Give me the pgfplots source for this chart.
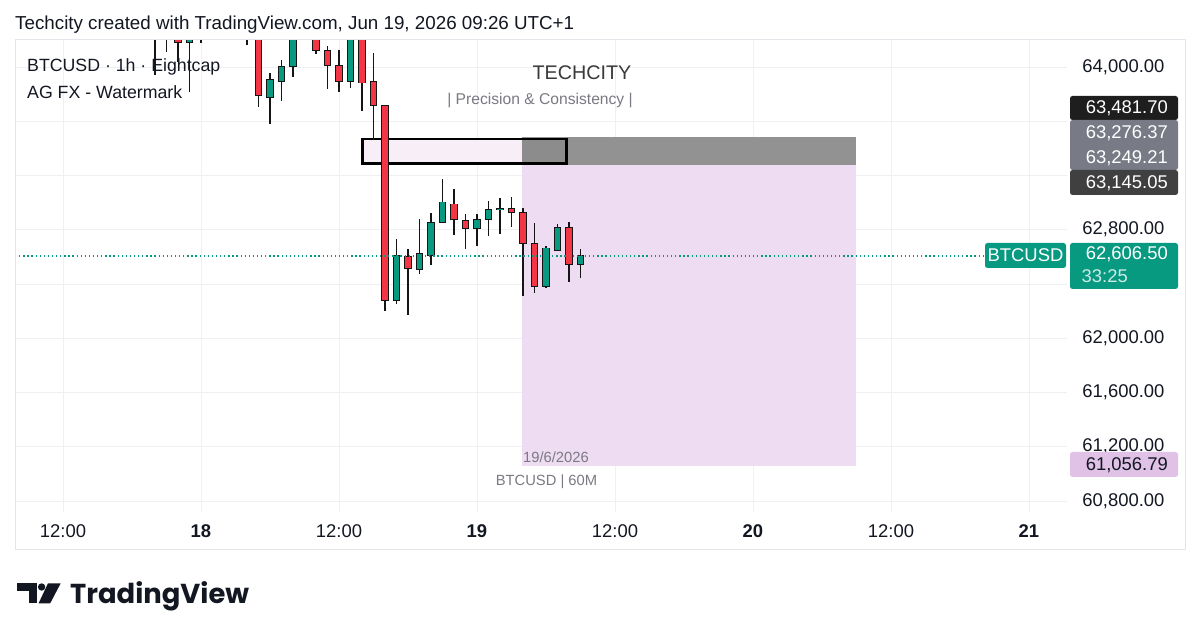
\documentclass[border=0pt]{standalone}
\usepackage{pgfplots}
\pgfplotsset{compat=1.18}
\usepackage{pgfplotstable}
\usepackage{fontspec}
\setmainfont{Liberation Sans}
\newfontfamily\logofont{Poppins}

\definecolor{upc}{HTML}{089981}
\definecolor{dnc}{HTML}{F23645}
\definecolor{wickc}{HTML}{151515}
\definecolor{gridc}{HTML}{EFF0F3}
\definecolor{framec}{HTML}{E3E5EA}
\definecolor{txt}{HTML}{131722}
\definecolor{pinkz}{HTML}{EEDDF2}
\definecolor{grayz}{HTML}{929292}
\definecolor{rectfill}{HTML}{F7EEF8}
\definecolor{lblblack}{HTML}{1E1E1E}
\definecolor{lblgray}{HTML}{787B86}
\definecolor{lbldark}{HTML}{404040}
\definecolor{lblpink}{HTML}{E0C2E7}
\definecolor{wmtxt}{HTML}{3A3A3A}
\definecolor{subtxt}{HTML}{7A7A84}

% hour 0 = 18 Jun 00:00 ; columns: x open high low close
\pgfplotstableread{
x o h l c
-4 64400 64500 63941 64300
-2 64300 64400 64039 64184
0 64300 64350 64177 64250
2 64500 64600 64300 64400
4 64300 64400 64162 64250
5 64300 64400 63703 63794
10 64350 64400 64100 64125
11 64120 64155 63836 64015
12 64010 64125 63813 63899
14 64250 64300 63678 63887
15 63887 64101 63462 63718
16 63712 63715 62201 62282
18 62601 62658 62171 62516
22 62988 63103 62766 62881
23 62865 62914 62658 62811
27 62951 63044 62820 62929
28 62926 62963 62311 62700
29 62695 62848 62336 62385
32 62811 62855 62417 62547
}\redt

\pgfplotstableread{
x o h l c
-3 64250 64450 64113 64350
-1 64184 64400 63818 64300
1 64300 64550 64250 64450
3 64350 64500 64250 64450
6 63781 63954 63578 63904
7 63899 64052 63752 64002
8 64010 64300 63928 64250
9 64250 64450 64210 64350
13 63899 64300 63847 64250
17 62282 62734 62253 62606
19 62508 62877 62474 62621
20 62614 62921 62540 62848
21 62859 63176 62855 63002
24 62815 62914 62680 62872
25 62877 63012 62756 62946
26 62951 63036 62769 62953
30 62385 62682 62368 62663
31 62651 62840 62646 62811
33 62545 62656 62442 62606.5
}\greent

\newcommand{\fs}[1]{\fontsize{#1}{#1}\selectfont}

\begin{document}
\begin{tikzpicture}[x=1bp,y=1bp]
\fill[white] (0,0) rectangle (1200,638);

\begin{axis}[
  at={(15bp,126bp)}, anchor=south west,
  scale only axis, width=1052bp, height=472bp,
  xmin=-16.17, xmax=75.3, ymin=60718.9, ymax=64199.1,
  axis line style={draw=none},
  major tick length=0pt, tick style={draw=none},
  grid=major, grid style={draw=gridc, line width=0.9bp},
  scaled y ticks=false, scaled x ticks=false,
  xtick={-12,0,12,24,36,48,60,72},
  xticklabels={12:00,\textbf{18},12:00,\textbf{19},12:00,\textbf{20},12:00,\textbf{21}},
  xticklabel style={anchor=center, yshift=-19bp, font=\fs{18.5}, text=txt},
  ytick={60800,61200,61600,62000,62400,62800,63200,63600,64000},
  yticklabels={{60,800.00},{61,200.00},{61,600.00},{62,000.00},{},{62,800.00},{},{},{64,000.00}},
  yticklabel pos=right,
  yticklabel style={anchor=east, xshift=101bp, font=\fs{18.5}, text=txt},
  clip mode=individual,
]
% position tool zones
\addplot[forget plot, fill=pinkz, draw=none] coordinates {(27.91,63276.37) (56.96,63276.37) (56.96,61056.79) (27.91,61056.79)} -- cycle;
\addplot[forget plot, fill=grayz, draw=none] coordinates {(27.91,63481.70) (56.96,63481.70) (56.96,63276.37) (27.91,63276.37)} -- cycle;
% outlined rectangle
\addplot[forget plot, fill=rectfill, draw=none] coordinates {(14.03,63470) (27.91,63470) (27.91,63290) (14.03,63290)} -- cycle;
\addplot[forget plot, fill=black, fill opacity=0.04, draw=none] coordinates {(27.91,63470) (31.8,63470) (31.8,63290) (27.91,63290)} -- cycle;
\addplot[forget plot, draw=black, line width=2.7bp] coordinates {(14.03,63470) (31.8,63470) (31.8,63290) (14.03,63290)} -- cycle;

% wicks
\addplot[forget plot, draw=none, mark=none,
  error bars/.cd, y dir=both, y explicit, error mark=none,
  error bar style={draw=wickc, line width=1.3bp, solid}]
  table[x=x, y expr={(\thisrow{h}+\thisrow{l})/2}, y error expr={(\thisrow{h}-\thisrow{l})/2}] {\redt};
\addplot[forget plot, draw=none, mark=none,
  error bars/.cd, y dir=both, y explicit, error mark=none,
  error bar style={draw=wickc, line width=1.3bp, solid}]
  table[x=x, y expr={(\thisrow{h}+\thisrow{l})/2}, y error expr={(\thisrow{h}-\thisrow{l})/2}] {\greent};
% body outlines
\addplot[forget plot, draw=none, mark=none,
  error bars/.cd, y dir=both, y explicit, error mark=none,
  error bar style={draw=wickc, line width=7.5bp, solid}]
  table[x=x, y expr={(\thisrow{o}+\thisrow{c})/2}, y error expr={abs(\thisrow{o}-\thisrow{c})/2+6.6}] {\redt};
\addplot[forget plot, draw=none, mark=none,
  error bars/.cd, y dir=both, y explicit, error mark=none,
  error bar style={draw=wickc, line width=7.5bp, solid}]
  table[x=x, y expr={(\thisrow{o}+\thisrow{c})/2}, y error expr={abs(\thisrow{o}-\thisrow{c})/2+6.6}] {\greent};
% body fills
\addplot[forget plot, draw=none, mark=none,
  error bars/.cd, y dir=both, y explicit, error mark=none,
  error bar style={draw=dnc, line width=5.6bp, solid}]
  table[x=x, y expr={(\thisrow{o}+\thisrow{c})/2}, y error expr={abs(\thisrow{o}-\thisrow{c})/2}] {\redt};
\addplot[forget plot, draw=none, mark=none,
  error bars/.cd, y dir=both, y explicit, error mark=none,
  error bar style={draw=upc, line width=5.6bp, solid}]
  table[x=x, y expr={(\thisrow{o}+\thisrow{c})/2}, y error expr={abs(\thisrow{o}-\thisrow{c})/2}] {\greent};
% last price line
\addplot[forget plot, draw=upc, line width=1.3bp, dash pattern=on 1.3bp off 2.8bp] coordinates {(-16.17,62606.5) (68.17,62606.5)};
\end{axis}

% frame
\draw[framec, line width=1bp] (15,638-40) rectangle (1185,638-550);

% header
\node[anchor=west, inner sep=0, text=txt, font=\fs{18.85}] at (15,638-25) {Techcity created with TradingView.com, Jun 19, 2026 09:26 UTC+1};
\node[anchor=west, inner sep=0, text=txt, font=\fs{17.8}] at (27,638-67) {BTCUSD · 1h · Eightcap};
\node[anchor=west, inner sep=0, text=txt, font=\fs{17.8}] at (27,638-92) {AG FX - Watermark};
\node[inner sep=0, text=wmtxt, font=\fs{19.8}] at (582,638-73) {TECHCITY};
\node[inner sep=0, text=subtxt, font=\fs{15.7}] at (540,638-101) {| Precision \& Consistency |};
\node[inner sep=0, text=subtxt, font=\fs{14.8}] at (556,638-457) {19/6/2026};
\node[inner sep=0, text=subtxt, font=\fs{14.8}] at (546.5,638-482) {BTCUSD | 60M};

% price scale labels
\fill[lblblack, rounded corners=2.5bp] (1070,638-96) rectangle (1178,638-120);
\fill[lblgray, rounded corners=2.5bp] (1070,638-120) rectangle (1178,638-170);
\fill[lbldark, rounded corners=2.5bp] (1070,638-170) rectangle (1178,638-195);
\node[anchor=east, inner sep=0, text=white, font=\fs{18.5}] at (1168,638-108) {63,481.70};
\node[anchor=east, inner sep=0, text=white, font=\fs{18.5}] at (1168,638-133) {63,276.37};
\node[anchor=east, inner sep=0, text=white, font=\fs{18.5}] at (1168,638-158) {63,249.21};
\node[anchor=east, inner sep=0, text=white, font=\fs{18.5}] at (1168,638-183) {63,145.05};

\fill[upc, rounded corners=2.5bp] (985,638-243) rectangle (1066,638-268);
\node[inner sep=0, text=white, font=\fs{18.5}] at (1025.5,638-255.5) {BTCUSD};
\fill[upc, rounded corners=2.5bp] (1070,638-243) rectangle (1178,638-289);
\node[anchor=east, inner sep=0, text=white, font=\fs{18.5}] at (1168,638-254.5) {62,606.50};
\node[anchor=west, inner sep=0, text=white!80!upc, font=\fs{18.5}] at (1081.5,638-276) {33:25};

\fill[lblpink, rounded corners=2.5bp] (1070,638-452) rectangle (1178,638-477);
\node[anchor=east, inner sep=0, text=txt, font=\fs{18.5}] at (1168,638-465) {61,056.79};

% TradingView logo
\fill[txt] (17.3,638-583.3) rectangle (37.3,638-590.7);
\fill[txt] (29.3,638-583.3) rectangle (37.3,638-603.3);
\fill[txt] (41.6,638-587) circle (3.7);
\fill[txt] (48,638-583.3) -- (60.7,638-583.3) -- (50.2,638-603.3) -- (38.6,638-603.3) -- cycle;
\node[anchor=base west, inner sep=0, text=txt, font=\logofont\bfseries\fs{27.5}] at (70,638-603.3) {TradingView};
\end{tikzpicture}
\end{document}
